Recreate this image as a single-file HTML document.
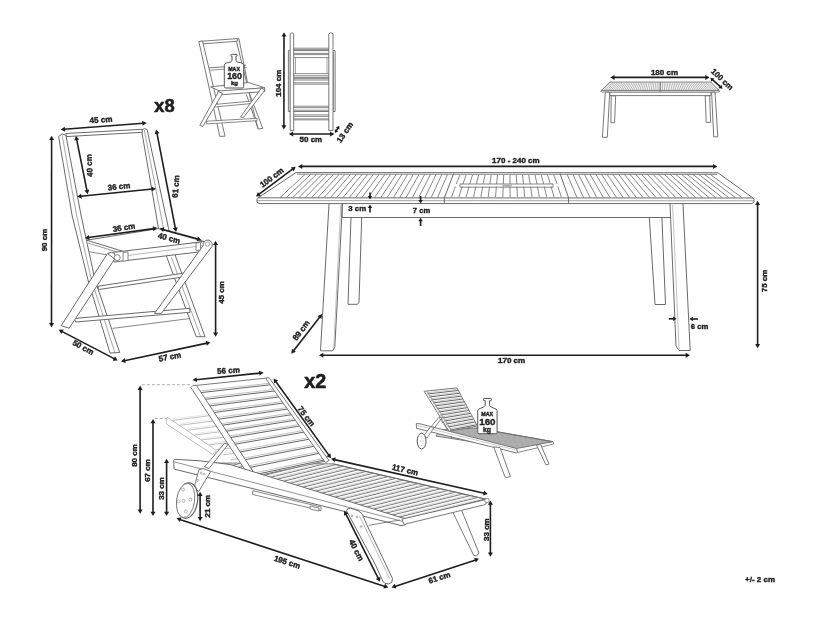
<!DOCTYPE html>
<html><head><meta charset="utf-8"><style>
html,body{margin:0;padding:0;background:#fff;}
svg{display:block;}
text{font-family:"Liberation Sans",sans-serif;}
svg{filter:grayscale(1) blur(0.3px);}
</style></head><body>
<svg width="816" height="619" viewBox="0 0 816 619">
<rect width="816" height="619" fill="#fff"/>
<line x1="296.0" y1="172.6" x2="718.0" y2="172.8" stroke="#6a6a6a" stroke-width="1.0" />
<line x1="297.0" y1="174.2" x2="717.0" y2="174.4" stroke="#6a6a6a" stroke-width="0.8" />
<line x1="258.0" y1="197.8" x2="296.0" y2="172.6" stroke="#6a6a6a" stroke-width="1.0" />
<line x1="718.0" y1="172.8" x2="753.0" y2="198.0" stroke="#6a6a6a" stroke-width="1.0" />
<line x1="258.0" y1="197.8" x2="753.0" y2="198.0" stroke="#6a6a6a" stroke-width="1.0" />
<path d="M258.0,197.8 L257.0,199.5 L257.0,202.0 L259.0,203.6 L752.0,203.6 L754.0,202.0 L754.0,199.5 L753.0,198.0" stroke="#6a6a6a" stroke-width="1.0" fill="none" stroke-linejoin="round" />
<line x1="257.0" y1="200.6" x2="754.0" y2="200.8" stroke="#6a6a6a" stroke-width="0.6" />
<line x1="453.7" y1="173.4" x2="444.3" y2="198.0" stroke="#6a6a6a" stroke-width="1.0" />
<line x1="560.0" y1="173.4" x2="568.6" y2="198.0" stroke="#6a6a6a" stroke-width="1.0" />
<line x1="444.3" y1="198.0" x2="444.3" y2="203.6" stroke="#6a6a6a" stroke-width="1.0" />
<line x1="568.6" y1="198.0" x2="568.6" y2="203.6" stroke="#6a6a6a" stroke-width="1.0" />
<clipPath id="ctop"><path d="M258,197.8 L296,172.6 L718,172.8 L753,198 Z"/></clipPath>
<g clip-path="url(#ctop)">
<line x1="280.0" y1="197.6" x2="305.0" y2="174.4" stroke="#6a6a6a" stroke-width="0.8" />
<line x1="286.3" y1="197.6" x2="310.7" y2="174.4" stroke="#6a6a6a" stroke-width="0.8" />
<line x1="292.6" y1="197.6" x2="316.4" y2="174.4" stroke="#6a6a6a" stroke-width="0.8" />
<line x1="298.9" y1="197.6" x2="322.1" y2="174.4" stroke="#6a6a6a" stroke-width="0.8" />
<line x1="305.2" y1="197.6" x2="327.8" y2="174.4" stroke="#6a6a6a" stroke-width="0.8" />
<line x1="311.5" y1="197.6" x2="333.5" y2="174.4" stroke="#6a6a6a" stroke-width="0.8" />
<line x1="317.8" y1="197.6" x2="339.2" y2="174.4" stroke="#6a6a6a" stroke-width="0.8" />
<line x1="324.1" y1="197.6" x2="344.9" y2="174.4" stroke="#6a6a6a" stroke-width="0.8" />
<line x1="330.4" y1="197.6" x2="350.6" y2="174.4" stroke="#6a6a6a" stroke-width="0.8" />
<line x1="336.7" y1="197.6" x2="356.3" y2="174.4" stroke="#6a6a6a" stroke-width="0.8" />
<line x1="343.0" y1="197.6" x2="362.0" y2="174.4" stroke="#6a6a6a" stroke-width="0.8" />
<line x1="349.3" y1="197.6" x2="367.7" y2="174.4" stroke="#6a6a6a" stroke-width="0.8" />
<line x1="355.6" y1="197.6" x2="373.4" y2="174.4" stroke="#6a6a6a" stroke-width="0.8" />
<line x1="361.9" y1="197.6" x2="379.1" y2="174.4" stroke="#6a6a6a" stroke-width="0.8" />
<line x1="368.2" y1="197.6" x2="384.8" y2="174.4" stroke="#6a6a6a" stroke-width="0.8" />
<line x1="374.5" y1="197.6" x2="390.5" y2="174.4" stroke="#6a6a6a" stroke-width="0.8" />
<line x1="380.8" y1="197.6" x2="396.2" y2="174.4" stroke="#6a6a6a" stroke-width="0.8" />
<line x1="387.1" y1="197.6" x2="401.9" y2="174.4" stroke="#6a6a6a" stroke-width="0.8" />
<line x1="393.4" y1="197.6" x2="407.6" y2="174.4" stroke="#6a6a6a" stroke-width="0.8" />
<line x1="399.7" y1="197.6" x2="413.3" y2="174.4" stroke="#6a6a6a" stroke-width="0.8" />
<line x1="406.0" y1="197.6" x2="419.0" y2="174.4" stroke="#6a6a6a" stroke-width="0.8" />
<line x1="412.3" y1="197.6" x2="424.7" y2="174.4" stroke="#6a6a6a" stroke-width="0.8" />
<line x1="418.6" y1="197.6" x2="430.4" y2="174.4" stroke="#6a6a6a" stroke-width="0.8" />
<line x1="424.9" y1="197.6" x2="436.1" y2="174.4" stroke="#6a6a6a" stroke-width="0.8" />
<line x1="431.2" y1="197.6" x2="441.8" y2="174.4" stroke="#6a6a6a" stroke-width="0.8" />
<line x1="437.5" y1="197.6" x2="447.5" y2="174.4" stroke="#6a6a6a" stroke-width="0.8" />
<line x1="577.0" y1="197.6" x2="567.2" y2="174.4" stroke="#6a6a6a" stroke-width="0.8" />
<line x1="583.6" y1="197.6" x2="572.9" y2="174.4" stroke="#6a6a6a" stroke-width="0.8" />
<line x1="590.2" y1="197.6" x2="578.6" y2="174.4" stroke="#6a6a6a" stroke-width="0.8" />
<line x1="596.8" y1="197.6" x2="584.4" y2="174.4" stroke="#6a6a6a" stroke-width="0.8" />
<line x1="603.4" y1="197.6" x2="590.1" y2="174.4" stroke="#6a6a6a" stroke-width="0.8" />
<line x1="610.0" y1="197.6" x2="595.8" y2="174.4" stroke="#6a6a6a" stroke-width="0.8" />
<line x1="616.6" y1="197.6" x2="601.5" y2="174.4" stroke="#6a6a6a" stroke-width="0.8" />
<line x1="623.2" y1="197.6" x2="607.2" y2="174.4" stroke="#6a6a6a" stroke-width="0.8" />
<line x1="629.8" y1="197.6" x2="613.0" y2="174.4" stroke="#6a6a6a" stroke-width="0.8" />
<line x1="636.4" y1="197.6" x2="618.7" y2="174.4" stroke="#6a6a6a" stroke-width="0.8" />
<line x1="643.0" y1="197.6" x2="624.4" y2="174.4" stroke="#6a6a6a" stroke-width="0.8" />
<line x1="649.6" y1="197.6" x2="630.1" y2="174.4" stroke="#6a6a6a" stroke-width="0.8" />
<line x1="656.2" y1="197.6" x2="635.8" y2="174.4" stroke="#6a6a6a" stroke-width="0.8" />
<line x1="662.8" y1="197.6" x2="641.6" y2="174.4" stroke="#6a6a6a" stroke-width="0.8" />
<line x1="669.4" y1="197.6" x2="647.3" y2="174.4" stroke="#6a6a6a" stroke-width="0.8" />
<line x1="676.0" y1="197.6" x2="653.0" y2="174.4" stroke="#6a6a6a" stroke-width="0.8" />
<line x1="682.6" y1="197.6" x2="658.7" y2="174.4" stroke="#6a6a6a" stroke-width="0.8" />
<line x1="689.2" y1="197.6" x2="664.4" y2="174.4" stroke="#6a6a6a" stroke-width="0.8" />
<line x1="695.8" y1="197.6" x2="670.2" y2="174.4" stroke="#6a6a6a" stroke-width="0.8" />
<line x1="702.4" y1="197.6" x2="675.9" y2="174.4" stroke="#6a6a6a" stroke-width="0.8" />
<line x1="709.0" y1="197.6" x2="681.6" y2="174.4" stroke="#6a6a6a" stroke-width="0.8" />
<line x1="715.6" y1="197.6" x2="687.3" y2="174.4" stroke="#6a6a6a" stroke-width="0.8" />
<line x1="722.2" y1="197.6" x2="693.0" y2="174.4" stroke="#6a6a6a" stroke-width="0.8" />
<line x1="728.8" y1="197.6" x2="698.8" y2="174.4" stroke="#6a6a6a" stroke-width="0.8" />
<line x1="735.4" y1="197.6" x2="704.5" y2="174.4" stroke="#6a6a6a" stroke-width="0.8" />
<line x1="742.0" y1="197.6" x2="710.2" y2="174.4" stroke="#6a6a6a" stroke-width="0.8" />
</g>
<line x1="451.6" y1="197.0" x2="455.4" y2="186.5" stroke="#6a6a6a" stroke-width="0.8" />
<line x1="456.2" y1="184.0" x2="460.0" y2="175.0" stroke="#6a6a6a" stroke-width="0.8" />
<line x1="458.9" y1="197.0" x2="462.2" y2="186.5" stroke="#6a6a6a" stroke-width="0.8" />
<line x1="462.9" y1="184.0" x2="466.2" y2="175.0" stroke="#6a6a6a" stroke-width="0.8" />
<line x1="466.2" y1="197.0" x2="469.0" y2="186.5" stroke="#6a6a6a" stroke-width="0.8" />
<line x1="469.7" y1="184.0" x2="472.5" y2="175.0" stroke="#6a6a6a" stroke-width="0.8" />
<line x1="473.5" y1="197.0" x2="475.9" y2="186.5" stroke="#6a6a6a" stroke-width="0.8" />
<line x1="476.4" y1="184.0" x2="478.7" y2="175.0" stroke="#6a6a6a" stroke-width="0.8" />
<line x1="480.9" y1="197.0" x2="482.7" y2="186.5" stroke="#6a6a6a" stroke-width="0.8" />
<line x1="483.1" y1="184.0" x2="485.0" y2="175.0" stroke="#6a6a6a" stroke-width="0.8" />
<line x1="488.2" y1="197.0" x2="489.5" y2="186.5" stroke="#6a6a6a" stroke-width="0.8" />
<line x1="489.8" y1="184.0" x2="491.2" y2="175.0" stroke="#6a6a6a" stroke-width="0.8" />
<line x1="495.5" y1="197.0" x2="496.4" y2="186.5" stroke="#6a6a6a" stroke-width="0.8" />
<line x1="496.6" y1="184.0" x2="497.5" y2="175.0" stroke="#6a6a6a" stroke-width="0.8" />
<line x1="502.8" y1="197.0" x2="503.2" y2="186.5" stroke="#6a6a6a" stroke-width="0.8" />
<line x1="503.3" y1="184.0" x2="503.7" y2="175.0" stroke="#6a6a6a" stroke-width="0.8" />
<line x1="510.1" y1="197.0" x2="510.0" y2="186.5" stroke="#6a6a6a" stroke-width="0.8" />
<line x1="510.0" y1="184.0" x2="510.0" y2="175.0" stroke="#6a6a6a" stroke-width="0.8" />
<line x1="517.4" y1="197.0" x2="516.9" y2="186.5" stroke="#6a6a6a" stroke-width="0.8" />
<line x1="516.8" y1="184.0" x2="516.2" y2="175.0" stroke="#6a6a6a" stroke-width="0.8" />
<line x1="524.7" y1="197.0" x2="523.7" y2="186.5" stroke="#6a6a6a" stroke-width="0.8" />
<line x1="523.5" y1="184.0" x2="522.5" y2="175.0" stroke="#6a6a6a" stroke-width="0.8" />
<line x1="532.0" y1="197.0" x2="530.6" y2="186.5" stroke="#6a6a6a" stroke-width="0.8" />
<line x1="530.2" y1="184.0" x2="528.7" y2="175.0" stroke="#6a6a6a" stroke-width="0.8" />
<line x1="539.4" y1="197.0" x2="537.4" y2="186.5" stroke="#6a6a6a" stroke-width="0.8" />
<line x1="537.0" y1="184.0" x2="535.0" y2="175.0" stroke="#6a6a6a" stroke-width="0.8" />
<line x1="546.7" y1="197.0" x2="544.2" y2="186.5" stroke="#6a6a6a" stroke-width="0.8" />
<line x1="543.7" y1="184.0" x2="541.2" y2="175.0" stroke="#6a6a6a" stroke-width="0.8" />
<line x1="554.0" y1="197.0" x2="551.1" y2="186.5" stroke="#6a6a6a" stroke-width="0.8" />
<line x1="550.4" y1="184.0" x2="547.5" y2="175.0" stroke="#6a6a6a" stroke-width="0.8" />
<line x1="561.3" y1="197.0" x2="557.9" y2="186.5" stroke="#6a6a6a" stroke-width="0.8" />
<line x1="557.1" y1="184.0" x2="553.7" y2="175.0" stroke="#6a6a6a" stroke-width="0.8" />
<path d="M460.0,184.0 L553.0,184.0 L553.0,187.2 L460.0,187.2 Z" stroke="#6a6a6a" stroke-width="0.8" fill="none" stroke-linejoin="round" />
<ellipse cx="507" cy="185.6" rx="5" ry="1.2" fill="#aaa"/>
<line x1="342.0" y1="203.6" x2="342.0" y2="217.5" stroke="#6a6a6a" stroke-width="1.0" />
<line x1="342.0" y1="217.5" x2="670.0" y2="217.5" stroke="#6a6a6a" stroke-width="1.0" />
<path d="M329.0,204.0 L320.5,350.8 L332.7,350.8 L334.8,347.1 L342.5,204.0" stroke="#6a6a6a" stroke-width="1.0" fill="none" stroke-linejoin="round" />
<path d="M351.0,217.5 L348.0,304.3 L357.5,304.3 L359.0,302.0 L361.7,217.5" stroke="#6a6a6a" stroke-width="1.0" fill="none" stroke-linejoin="round" />
<path d="M670.0,204.0 L676.0,346.0 L679.0,350.5 L690.2,350.5 L683.0,204.0" stroke="#6a6a6a" stroke-width="1.0" fill="none" stroke-linejoin="round" />
<line x1="672.6" y1="205.0" x2="679.1" y2="349.0" stroke="#999" stroke-width="0.6" />
<line x1="340.8" y1="205.0" x2="333.6" y2="350.0" stroke="#999" stroke-width="0.6" />
<path d="M649.3,217.5 L655.0,304.5 L665.5,304.5 L661.9,217.5" stroke="#6a6a6a" stroke-width="1.0" fill="none" stroke-linejoin="round" />
<line x1="301.4" y1="166.4" x2="714.0" y2="166.4" stroke="#1e1e1e" stroke-width="1.6"/>
<path d="M717.4,166.4 L713.1,168.9 L713.1,163.9 Z" fill="#1e1e1e"/>
<path d="M298.0,166.4 L302.3,163.9 L302.3,168.9 Z" fill="#1e1e1e"/>
<text x="515.9" y="162.5" font-size="8" font-weight="bold" text-anchor="middle" fill="#1e1e1e" stroke="#1e1e1e" stroke-width="0.4">170 - 240 cm</text>
<line x1="258.8" y1="194.4" x2="292.9" y2="168.9" stroke="#1e1e1e" stroke-width="1.6"/>
<path d="M295.7,166.8 L293.8,171.4 L290.8,167.4 Z" fill="#1e1e1e"/>
<path d="M256.0,196.5 L257.9,191.9 L260.9,195.9 Z" fill="#1e1e1e"/>
<text x="272.0" y="180.1" font-size="8" font-weight="bold" text-anchor="middle" fill="#1e1e1e" stroke="#1e1e1e" stroke-width="0.4" transform="rotate(-37 272.0 177.8)">100 cm</text>
<line x1="370.0" y1="192.4" x2="370.0" y2="196.7" stroke="#1e1e1e" stroke-width="1.6"/>
<path d="M370.0,199.5 L367.8,196.0 L372.2,196.0 Z" fill="#1e1e1e"/>
<line x1="370.0" y1="212.6" x2="370.0" y2="207.4" stroke="#1e1e1e" stroke-width="1.6"/>
<path d="M370.0,204.6 L372.2,208.1 L367.8,208.1 Z" fill="#1e1e1e"/>
<text x="357.2" y="211.1" font-size="7.8" font-weight="bold" text-anchor="middle" fill="#1e1e1e" stroke="#1e1e1e" stroke-width="0.4">3 cm</text>
<line x1="420.6" y1="196.0" x2="420.6" y2="200.6" stroke="#1e1e1e" stroke-width="1.6"/>
<path d="M420.6,203.4 L418.4,199.9 L422.8,199.9 Z" fill="#1e1e1e"/>
<line x1="420.6" y1="226.0" x2="420.6" y2="220.6" stroke="#1e1e1e" stroke-width="1.6"/>
<path d="M420.6,217.8 L422.8,221.3 L418.4,221.3 Z" fill="#1e1e1e"/>
<text x="421.5" y="212.6" font-size="7.6" font-weight="bold" text-anchor="middle" fill="#1e1e1e" stroke="#1e1e1e" stroke-width="0.4">7 cm</text>
<line x1="757.6" y1="204.1" x2="757.6" y2="344.9" stroke="#1e1e1e" stroke-width="1.6"/>
<path d="M757.6,348.3 L755.1,344.0 L760.1,344.0 Z" fill="#1e1e1e"/>
<path d="M757.6,200.7 L760.1,205.0 L755.1,205.0 Z" fill="#1e1e1e"/>
<text x="764.7" y="283.2" font-size="8" font-weight="bold" text-anchor="middle" fill="#1e1e1e" stroke="#1e1e1e" stroke-width="0.4" transform="rotate(-90 764.7 280.9)">75 cm</text>
<line x1="668.8" y1="318.8" x2="673.8" y2="318.8" stroke="#1e1e1e" stroke-width="1.6"/>
<path d="M676.6,318.8 L673.1,321.0 L673.1,316.6 Z" fill="#1e1e1e"/>
<line x1="698.0" y1="319.0" x2="692.2" y2="319.0" stroke="#1e1e1e" stroke-width="1.6"/>
<path d="M689.4,319.0 L692.9,316.8 L692.9,321.2 Z" fill="#1e1e1e"/>
<text x="699.6" y="328.5" font-size="7.7" font-weight="bold" text-anchor="middle" fill="#1e1e1e" stroke="#1e1e1e" stroke-width="0.4">6 cm</text>
<line x1="293.4" y1="351.0" x2="320.0" y2="316.8" stroke="#1e1e1e" stroke-width="1.6"/>
<path d="M322.1,314.1 L321.4,319.0 L317.5,316.0 Z" fill="#1e1e1e"/>
<path d="M291.3,353.7 L292.0,348.8 L295.9,351.8 Z" fill="#1e1e1e"/>
<text x="301.5" y="332.9" font-size="8" font-weight="bold" text-anchor="middle" fill="#1e1e1e" stroke="#1e1e1e" stroke-width="0.4" transform="rotate(-53 301.5 330.6)">89 cm</text>
<line x1="322.4" y1="355.3" x2="686.6" y2="355.3" stroke="#1e1e1e" stroke-width="1.6"/>
<path d="M690.0,355.3 L685.7,357.8 L685.7,352.8 Z" fill="#1e1e1e"/>
<path d="M319.0,355.3 L323.3,352.8 L323.3,357.8 Z" fill="#1e1e1e"/>
<text x="511.6" y="363.0" font-size="8" font-weight="bold" text-anchor="middle" fill="#1e1e1e" stroke="#1e1e1e" stroke-width="0.4">170 cm</text>
<path d="M141.5,130.0 L144.3,128.6 L147.1,129.5 L168.6,228.6 L176.0,257.6 L205.0,336.7 L196.2,336.7 L167.0,257.6 L158.5,228.6 Z" stroke="#6a6a6a" stroke-width="1.0" fill="#fff" stroke-linejoin="round" />
<line x1="144.3" y1="130.0" x2="163.5" y2="228.6" stroke="#6a6a6a" stroke-width="0.6" />
<line x1="171.5" y1="257.6" x2="200.6" y2="336.7" stroke="#6a6a6a" stroke-width="0.6" />
<path d="M65.8,133.5 L141.8,129.3 L142.5,132.3 L66.3,136.6 Z" stroke="#6a6a6a" stroke-width="1.0" fill="#fff" stroke-linejoin="round" />
<path d="M58.6,136.5 L62.0,134.0 L65.8,135.0 L81.0,215.0 L95.0,280.0 L119.7,352.5 L110.0,353.0 L88.0,280.0 L72.0,215.0 Z" stroke="#6a6a6a" stroke-width="1.0" fill="#fff" stroke-linejoin="round" />
<path d="M62.2,135.5 L76.5,215.0 L91.5,280.0 L114.8,352.5" stroke="#6a6a6a" stroke-width="0.6" fill="none" stroke-linejoin="round" />
<path d="M98.3,286.2 L185.6,272.8 L186.0,276.5 L98.3,289.6 Z" stroke="#6a6a6a" stroke-width="1.0" fill="#fff" stroke-linejoin="round" />
<path d="M74.0,318.5 L189.8,308.3 L190.0,312.3 L75.7,322.0 Z" stroke="#6a6a6a" stroke-width="1.0" fill="#fff" stroke-linejoin="round" />
<line x1="112.5" y1="328.4" x2="190.0" y2="318.5" stroke="#6a6a6a" stroke-width="0.8" />
<path d="M86.8,240.2 L158.2,228.6 L204.0,241.5 L126.8,252.5 Z" stroke="#6a6a6a" stroke-width="1.0" fill="#fff" stroke-linejoin="round" />
<line x1="88.0" y1="243.0" x2="127.0" y2="255.0" stroke="#6a6a6a" stroke-width="0.7" />
<path d="M112.0,252.5 L205.0,241.5 L207.0,251.0 L114.0,262.0 Z" stroke="#6a6a6a" stroke-width="1.0" fill="#fff" stroke-linejoin="round" />
<line x1="128.0" y1="255.5" x2="203.0" y2="245.5" stroke="#888" stroke-width="0.6" />
<line x1="88.8" y1="251.7" x2="108.0" y2="255.0" stroke="#6a6a6a" stroke-width="0.8" />
<circle cx="111.3" cy="256.3" r="4" fill="#fff" stroke="#6a6a6a" stroke-width="1"/>
<circle cx="117.2" cy="257.6" r="3" fill="#fff" stroke="#6a6a6a" stroke-width="0.8"/>
<path d="M123.0,252.5 L128.0,251.8 L128.0,260.5 L123.0,261.2 Z" stroke="#6a6a6a" stroke-width="0.8" fill="#fff" stroke-linejoin="round" />
<path d="M107.5,253.5 L114.6,259.0 L69.2,328.2 L61.2,325.7 Z" stroke="#6a6a6a" stroke-width="1.0" fill="#fff" stroke-linejoin="round" />
<path d="M203.2,245.5 A4.6,4.6 0 1 1 211.9,246.6 L161.3,313.4 L154.5,313.4 Z" fill="#fff" stroke="#6a6a6a" stroke-width="1" stroke-linejoin="round"/>
<circle cx="207.6" cy="244" r="2.2" fill="#fff" stroke="#888" stroke-width="0.7"/>
<path d="M196.0,243.0 L200.5,242.5 L200.5,250.0 L196.0,250.5 Z" stroke="#6a6a6a" stroke-width="0.8" fill="#fff" stroke-linejoin="round" />
<line x1="64.1" y1="129.2" x2="143.3" y2="123.2" stroke="#1e1e1e" stroke-width="1.6"/>
<path d="M146.7,122.9 L142.6,125.7 L142.2,120.7 Z" fill="#1e1e1e"/>
<path d="M60.7,129.5 L64.8,126.7 L65.2,131.7 Z" fill="#1e1e1e"/>
<text x="101.0" y="122.5" font-size="8" font-weight="bold" text-anchor="middle" fill="#1e1e1e" stroke="#1e1e1e" stroke-width="0.4" transform="rotate(-4 101.0 120.2)">45 cm</text>
<line x1="51.6" y1="139.1" x2="51.5" y2="324.0" stroke="#1e1e1e" stroke-width="1.6"/>
<path d="M51.5,327.4 L49.0,323.1 L54.0,323.1 Z" fill="#1e1e1e"/>
<path d="M51.6,135.7 L54.1,140.0 L49.1,140.0 Z" fill="#1e1e1e"/>
<text x="45.0" y="242.3" font-size="8" font-weight="bold" text-anchor="middle" fill="#1e1e1e" stroke="#1e1e1e" stroke-width="0.4" transform="rotate(-90 45.0 240.0)">90 cm</text>
<line x1="76.6" y1="139.1" x2="87.0" y2="190.8" stroke="#1e1e1e" stroke-width="1.6"/>
<path d="M87.7,194.2 L84.4,190.5 L89.3,189.5 Z" fill="#1e1e1e"/>
<path d="M75.9,135.7 L79.2,139.4 L74.3,140.4 Z" fill="#1e1e1e"/>
<text x="89.8" y="167.9" font-size="8" font-weight="bold" text-anchor="middle" fill="#1e1e1e" stroke="#1e1e1e" stroke-width="0.4" transform="rotate(-93 89.8 165.6)">40 cm</text>
<line x1="80.6" y1="196.3" x2="152.5" y2="189.0" stroke="#1e1e1e" stroke-width="1.6"/>
<path d="M155.9,188.7 L151.9,191.6 L151.4,186.6 Z" fill="#1e1e1e"/>
<path d="M77.2,196.6 L81.2,193.7 L81.7,198.7 Z" fill="#1e1e1e"/>
<text x="119.0" y="189.3" font-size="8" font-weight="bold" text-anchor="middle" fill="#1e1e1e" stroke="#1e1e1e" stroke-width="0.4" transform="rotate(-6 119.0 187.0)">36 cm</text>
<line x1="156.9" y1="132.9" x2="175.4" y2="228.6" stroke="#1e1e1e" stroke-width="1.6"/>
<path d="M176.1,232.0 L172.8,228.3 L177.7,227.3 Z" fill="#1e1e1e"/>
<path d="M156.2,129.5 L159.5,133.2 L154.6,134.2 Z" fill="#1e1e1e"/>
<text x="176.2" y="188.8" font-size="8" font-weight="bold" text-anchor="middle" fill="#1e1e1e" stroke="#1e1e1e" stroke-width="0.4" transform="rotate(-85 176.2 186.5)">61 cm</text>
<line x1="88.3" y1="237.5" x2="153.9" y2="228.6" stroke="#1e1e1e" stroke-width="1.6"/>
<path d="M157.3,228.1 L153.4,231.2 L152.7,226.2 Z" fill="#1e1e1e"/>
<path d="M84.9,238.0 L88.8,234.9 L89.5,239.9 Z" fill="#1e1e1e"/>
<text x="124.0" y="230.3" font-size="8" font-weight="bold" text-anchor="middle" fill="#1e1e1e" stroke="#1e1e1e" stroke-width="0.4" transform="rotate(-9 124.0 228.0)">36 cm</text>
<line x1="162.9" y1="229.5" x2="198.1" y2="239.0" stroke="#1e1e1e" stroke-width="1.6"/>
<path d="M201.4,239.9 L196.6,241.2 L197.9,236.4 Z" fill="#1e1e1e"/>
<path d="M159.6,228.6 L164.4,227.3 L163.1,232.1 Z" fill="#1e1e1e"/>
<text x="169.0" y="240.9" font-size="8" font-weight="bold" text-anchor="middle" fill="#1e1e1e" stroke="#1e1e1e" stroke-width="0.4" transform="rotate(15 169.0 238.6)">40 cm</text>
<line x1="215.6" y1="244.1" x2="215.6" y2="333.3" stroke="#1e1e1e" stroke-width="1.6"/>
<path d="M215.6,336.7 L213.1,332.4 L218.1,332.4 Z" fill="#1e1e1e"/>
<path d="M215.6,240.7 L218.1,245.0 L213.1,245.0 Z" fill="#1e1e1e"/>
<text x="222.0" y="294.8" font-size="8" font-weight="bold" text-anchor="middle" fill="#1e1e1e" stroke="#1e1e1e" stroke-width="0.4" transform="rotate(-90 222.0 292.5)">45 cm</text>
<line x1="61.8" y1="331.4" x2="114.6" y2="358.9" stroke="#1e1e1e" stroke-width="1.6"/>
<path d="M117.7,360.5 L112.7,360.7 L115.0,356.3 Z" fill="#1e1e1e"/>
<path d="M58.7,329.8 L63.7,329.6 L61.4,334.0 Z" fill="#1e1e1e"/>
<text x="83.0" y="350.1" font-size="8" font-weight="bold" text-anchor="middle" fill="#1e1e1e" stroke="#1e1e1e" stroke-width="0.4" transform="rotate(28 83.0 347.8)">50 cm</text>
<line x1="124.4" y1="360.7" x2="207.0" y2="343.1" stroke="#1e1e1e" stroke-width="1.6"/>
<path d="M210.4,342.4 L206.7,345.7 L205.7,340.8 Z" fill="#1e1e1e"/>
<path d="M121.0,361.4 L124.7,358.1 L125.7,363.0 Z" fill="#1e1e1e"/>
<text x="170.0" y="359.6" font-size="8" font-weight="bold" text-anchor="middle" fill="#1e1e1e" stroke="#1e1e1e" stroke-width="0.4" transform="rotate(-11 170.0 357.3)">57 cm</text>
<path d="M235.9,39.0 L238.9,38.5 L249.8,94.5 L262.8,128.4 L258.0,129.0 Z" stroke="#6a6a6a" stroke-width="0.9" fill="#fff" stroke-linejoin="round" />
<line x1="246.4" y1="94.5" x2="258.0" y2="128.4" stroke="#6a6a6a" stroke-width="0.9" />
<path d="M200.7,41.3 L237.1,38.6 L237.6,41.2 L201.2,44.0 Z" stroke="#6a6a6a" stroke-width="0.9" fill="#fff" stroke-linejoin="round" />
<line x1="205.1" y1="68.2" x2="246.0" y2="65.2" stroke="#6a6a6a" stroke-width="0.9" />
<line x1="205.6" y1="70.5" x2="246.5" y2="67.5" stroke="#6a6a6a" stroke-width="0.7" />
<path d="M198.9,41.6 L202.5,41.0 L225.0,136.2 L219.8,136.4 Z" stroke="#6a6a6a" stroke-width="0.9" fill="#fff" stroke-linejoin="round" />
<path d="M214.0,104.5 L252.3,101.0 L252.3,103.5 L214.0,107.0 Z" stroke="#6a6a6a" stroke-width="0.8" fill="#fff" stroke-linejoin="round" />
<path d="M206.6,121.2 L257.0,118.3 L257.0,120.7 L206.6,123.9 Z" stroke="#6a6a6a" stroke-width="0.8" fill="#fff" stroke-linejoin="round" />
<path d="M210.5,86.9 L248.7,82.5 L264.7,87.8 L221.1,91.6 Z" stroke="#6a6a6a" stroke-width="0.9" fill="#fff" stroke-linejoin="round" />
<path d="M218.0,91.0 L264.7,87.8 L264.7,91.5 L218.0,95.0 Z" stroke="#6a6a6a" stroke-width="0.9" fill="#fff" stroke-linejoin="round" />
<path d="M218.5,91.5 L222.5,93.5 L202.9,126.3 L199.8,125.5 Z" stroke="#6a6a6a" stroke-width="0.9" fill="#fff" stroke-linejoin="round" />
<path d="M261.5,88.0 L265.0,90.0 L243.4,117.5 L240.5,117.0 Z" stroke="#6a6a6a" stroke-width="0.9" fill="#fff" stroke-linejoin="round" />
<path d="M232.0,56.1 L231.4,56.1 Q230.8,56.1 230.8,55.4 L230.8,55.1 Q230.8,54.4 231.5,54.4 L236.5,54.4 Q237.2,54.4 237.2,55.1 L237.2,55.4 Q237.2,56.1 236.6,56.1 L236.0,56.1 L236.0,60.7 Q236.6,62.3 240.7,62.7 Q243.7,63.3 243.7,65.1 L243.7,86.7 Q243.7,88.0 242.4,88.0 L225.6,88.0 Q224.3,88.0 224.3,86.7 L224.3,65.1 Q224.3,63.3 227.3,62.7 Q231.4,62.3 232.0,60.7 Z" fill="#fff" stroke="#555" stroke-width="1"/>
<text x="234.1" y="70.9" font-size="5.3" font-weight="bold" text-anchor="middle" fill="#1e1e1e" stroke="#1e1e1e" stroke-width="0.4">MAX</text>
<text x="234.6" y="79.3" font-size="8.9" font-weight="bold" text-anchor="middle" fill="#1e1e1e" stroke="#1e1e1e" stroke-width="0.4">160</text>
<text x="234.4" y="85.0" font-size="6" font-weight="bold" text-anchor="middle" fill="#1e1e1e" stroke="#1e1e1e" stroke-width="0.4">kg</text>
<path d="M288.4,50.6 L335.1,50.6 L335.1,111.5 L288.4,111.5 Z" stroke="#6a6a6a" stroke-width="0.9" fill="#fff" stroke-linejoin="round" />
<line x1="290.2" y1="52.0" x2="290.2" y2="111.0" stroke="#6a6a6a" stroke-width="0.7" />
<line x1="333.3" y1="52.0" x2="333.3" y2="111.0" stroke="#6a6a6a" stroke-width="0.7" />
<path d="M290.2,130.5 L290.2,33.8 L292.0,32.7 L293.7,33.8 L293.7,130.5 Z" stroke="#6a6a6a" stroke-width="0.9" fill="#fff" stroke-linejoin="round" />
<path d="M328.8,130.5 L328.8,33.8 L330.9,32.7 L333.0,33.8 L333.0,130.5 Z" stroke="#6a6a6a" stroke-width="0.9" fill="#fff" stroke-linejoin="round" />
<line x1="293.7" y1="48.2" x2="328.8" y2="48.2" stroke="#6a6a6a" stroke-width="0.8" />
<line x1="293.7" y1="49.6" x2="328.8" y2="49.6" stroke="#6a6a6a" stroke-width="0.8" />
<line x1="293.7" y1="53.4" x2="328.8" y2="53.4" stroke="#6a6a6a" stroke-width="0.8" />
<line x1="293.7" y1="54.6" x2="328.8" y2="54.6" stroke="#6a6a6a" stroke-width="0.8" />
<line x1="293.7" y1="57.6" x2="328.8" y2="57.6" stroke="#6a6a6a" stroke-width="0.8" />
<line x1="293.7" y1="73.7" x2="328.8" y2="73.7" stroke="#6a6a6a" stroke-width="0.8" />
<line x1="293.7" y1="75.8" x2="328.8" y2="75.8" stroke="#6a6a6a" stroke-width="0.8" />
<line x1="293.7" y1="77.4" x2="328.8" y2="77.4" stroke="#6a6a6a" stroke-width="0.8" />
<line x1="293.7" y1="78.6" x2="328.8" y2="78.6" stroke="#6a6a6a" stroke-width="0.8" />
<line x1="293.7" y1="80.0" x2="328.8" y2="80.0" stroke="#6a6a6a" stroke-width="0.8" />
<line x1="293.7" y1="82.8" x2="328.8" y2="82.8" stroke="#6a6a6a" stroke-width="0.8" />
<line x1="293.7" y1="84.2" x2="328.8" y2="84.2" stroke="#6a6a6a" stroke-width="0.8" />
<line x1="293.7" y1="106.2" x2="328.8" y2="106.2" stroke="#6a6a6a" stroke-width="0.8" />
<line x1="293.7" y1="107.6" x2="328.8" y2="107.6" stroke="#6a6a6a" stroke-width="0.8" />
<line x1="293.7" y1="110.2" x2="328.8" y2="110.2" stroke="#6a6a6a" stroke-width="0.8" />
<line x1="293.7" y1="114.9" x2="328.8" y2="114.9" stroke="#6a6a6a" stroke-width="0.8" />
<line x1="293.7" y1="116.4" x2="328.8" y2="116.4" stroke="#6a6a6a" stroke-width="0.8" />
<line x1="293.7" y1="118.9" x2="328.8" y2="118.9" stroke="#6a6a6a" stroke-width="0.8" />
<line x1="293.7" y1="119.9" x2="328.8" y2="119.9" stroke="#6a6a6a" stroke-width="0.8" />
<line x1="295.5" y1="58.0" x2="295.5" y2="73.7" stroke="#6a6a6a" stroke-width="0.6" />
<line x1="327.0" y1="58.0" x2="327.0" y2="73.7" stroke="#6a6a6a" stroke-width="0.6" />
<line x1="284.0" y1="35.6" x2="283.9" y2="126.2" stroke="#1e1e1e" stroke-width="1.6"/>
<path d="M283.9,129.6 L281.4,125.3 L286.4,125.3 Z" fill="#1e1e1e"/>
<path d="M284.0,32.2 L286.5,36.5 L281.5,36.5 Z" fill="#1e1e1e"/>
<text x="278.7" y="85.5" font-size="8" font-weight="bold" text-anchor="middle" fill="#1e1e1e" stroke="#1e1e1e" stroke-width="0.4" transform="rotate(-90 278.7 83.2)">104 cm</text>
<line x1="292.2" y1="134.0" x2="331.0" y2="134.0" stroke="#1e1e1e" stroke-width="1.6"/>
<path d="M334.4,134.0 L330.1,136.5 L330.1,131.5 Z" fill="#1e1e1e"/>
<path d="M288.8,134.0 L293.1,131.5 L293.1,136.5 Z" fill="#1e1e1e"/>
<text x="310.9" y="141.5" font-size="8" font-weight="bold" text-anchor="middle" fill="#1e1e1e" stroke="#1e1e1e" stroke-width="0.4">50 cm</text>
<line x1="336.2" y1="130.8" x2="338.0" y2="127.9" stroke="#1e1e1e" stroke-width="1.6"/>
<path d="M339.3,125.7 L339.4,129.5 L335.9,127.4 Z" fill="#1e1e1e"/>
<path d="M334.9,133.0 L334.8,129.2 L338.3,131.3 Z" fill="#1e1e1e"/>
<text x="345.2" y="134.8" font-size="8" font-weight="bold" text-anchor="middle" fill="#1e1e1e" stroke="#1e1e1e" stroke-width="0.4" transform="rotate(-56 345.2 132.5)">13 cm</text>
<path d="M611.2,95.8 L615.6,95.8 L614.6,122.7 L610.9,122.7 Z" stroke="#6a6a6a" stroke-width="0.9" fill="#fff" stroke-linejoin="round" />
<path d="M705.2,95.7 L709.6,95.7 L710.7,122.4 L706.2,122.4 Z" stroke="#6a6a6a" stroke-width="0.9" fill="#fff" stroke-linejoin="round" />
<path d="M609.7,91.9 L711.0,91.9 L711.0,95.6 L609.7,95.6 Z" stroke="#6a6a6a" stroke-width="0.9" fill="#fff" stroke-linejoin="round" />
<path d="M609.7,82.1 L710.8,82.1 L719.0,90.4 L601.4,90.4 Z" stroke="#6a6a6a" stroke-width="0.9" fill="#fff" stroke-linejoin="round" />
<path d="M601.4,90.4 L719.0,90.4 L719.4,91.2 L719.0,92.0 L601.4,92.0 L601.0,91.2 Z" stroke="#6a6a6a" stroke-width="0.8" fill="#fff" stroke-linejoin="round" />
<clipPath id="cst"><path d="M609.7,83 L710.8,83 L718,89.8 L602.4,89.8 Z"/></clipPath><g clip-path="url(#cst)">
<line x1="598.0" y1="90.0" x2="605.5" y2="82.5" stroke="#8a8a8a" stroke-width="0.6" />
<line x1="599.9" y1="90.0" x2="607.2" y2="82.5" stroke="#8a8a8a" stroke-width="0.6" />
<line x1="601.8" y1="90.0" x2="608.8" y2="82.5" stroke="#8a8a8a" stroke-width="0.6" />
<line x1="603.7" y1="90.0" x2="610.5" y2="82.5" stroke="#8a8a8a" stroke-width="0.6" />
<line x1="605.6" y1="90.0" x2="612.2" y2="82.5" stroke="#8a8a8a" stroke-width="0.6" />
<line x1="607.5" y1="90.0" x2="613.8" y2="82.5" stroke="#8a8a8a" stroke-width="0.6" />
<line x1="609.4" y1="90.0" x2="615.5" y2="82.5" stroke="#8a8a8a" stroke-width="0.6" />
<line x1="611.3" y1="90.0" x2="617.2" y2="82.5" stroke="#8a8a8a" stroke-width="0.6" />
<line x1="613.2" y1="90.0" x2="618.8" y2="82.5" stroke="#8a8a8a" stroke-width="0.6" />
<line x1="615.1" y1="90.0" x2="620.5" y2="82.5" stroke="#8a8a8a" stroke-width="0.6" />
<line x1="617.0" y1="90.0" x2="622.2" y2="82.5" stroke="#8a8a8a" stroke-width="0.6" />
<line x1="618.9" y1="90.0" x2="623.9" y2="82.5" stroke="#8a8a8a" stroke-width="0.6" />
<line x1="620.8" y1="90.0" x2="625.5" y2="82.5" stroke="#8a8a8a" stroke-width="0.6" />
<line x1="622.7" y1="90.0" x2="627.2" y2="82.5" stroke="#8a8a8a" stroke-width="0.6" />
<line x1="624.6" y1="90.0" x2="628.9" y2="82.5" stroke="#8a8a8a" stroke-width="0.6" />
<line x1="626.5" y1="90.0" x2="630.5" y2="82.5" stroke="#8a8a8a" stroke-width="0.6" />
<line x1="628.4" y1="90.0" x2="632.2" y2="82.5" stroke="#8a8a8a" stroke-width="0.6" />
<line x1="630.3" y1="90.0" x2="633.9" y2="82.5" stroke="#8a8a8a" stroke-width="0.6" />
<line x1="632.2" y1="90.0" x2="635.6" y2="82.5" stroke="#8a8a8a" stroke-width="0.6" />
<line x1="634.1" y1="90.0" x2="637.2" y2="82.5" stroke="#8a8a8a" stroke-width="0.6" />
<line x1="636.0" y1="90.0" x2="638.9" y2="82.5" stroke="#8a8a8a" stroke-width="0.6" />
<line x1="637.9" y1="90.0" x2="640.6" y2="82.5" stroke="#8a8a8a" stroke-width="0.6" />
<line x1="639.8" y1="90.0" x2="642.2" y2="82.5" stroke="#8a8a8a" stroke-width="0.6" />
<line x1="641.7" y1="90.0" x2="643.9" y2="82.5" stroke="#8a8a8a" stroke-width="0.6" />
<line x1="643.6" y1="90.0" x2="645.6" y2="82.5" stroke="#8a8a8a" stroke-width="0.6" />
<line x1="645.5" y1="90.0" x2="647.2" y2="82.5" stroke="#8a8a8a" stroke-width="0.6" />
<line x1="647.4" y1="90.0" x2="648.9" y2="82.5" stroke="#8a8a8a" stroke-width="0.6" />
<line x1="649.3" y1="90.0" x2="650.6" y2="82.5" stroke="#8a8a8a" stroke-width="0.6" />
<line x1="651.2" y1="90.0" x2="652.3" y2="82.5" stroke="#8a8a8a" stroke-width="0.6" />
<line x1="653.1" y1="90.0" x2="653.9" y2="82.5" stroke="#8a8a8a" stroke-width="0.6" />
<line x1="655.0" y1="90.0" x2="655.6" y2="82.5" stroke="#8a8a8a" stroke-width="0.6" />
<line x1="656.9" y1="90.0" x2="657.3" y2="82.5" stroke="#8a8a8a" stroke-width="0.6" />
<line x1="658.8" y1="90.0" x2="658.9" y2="82.5" stroke="#8a8a8a" stroke-width="0.6" />
<line x1="660.7" y1="90.0" x2="660.6" y2="82.5" stroke="#8a8a8a" stroke-width="0.6" />
<line x1="662.6" y1="90.0" x2="662.3" y2="82.5" stroke="#8a8a8a" stroke-width="0.6" />
<line x1="664.5" y1="90.0" x2="664.0" y2="82.5" stroke="#8a8a8a" stroke-width="0.6" />
<line x1="666.4" y1="90.0" x2="665.6" y2="82.5" stroke="#8a8a8a" stroke-width="0.6" />
<line x1="668.3" y1="90.0" x2="667.3" y2="82.5" stroke="#8a8a8a" stroke-width="0.6" />
<line x1="670.2" y1="90.0" x2="669.0" y2="82.5" stroke="#8a8a8a" stroke-width="0.6" />
<line x1="672.1" y1="90.0" x2="670.6" y2="82.5" stroke="#8a8a8a" stroke-width="0.6" />
<line x1="674.0" y1="90.0" x2="672.3" y2="82.5" stroke="#8a8a8a" stroke-width="0.6" />
<line x1="675.9" y1="90.0" x2="674.0" y2="82.5" stroke="#8a8a8a" stroke-width="0.6" />
<line x1="677.8" y1="90.0" x2="675.7" y2="82.5" stroke="#8a8a8a" stroke-width="0.6" />
<line x1="679.7" y1="90.0" x2="677.3" y2="82.5" stroke="#8a8a8a" stroke-width="0.6" />
<line x1="681.6" y1="90.0" x2="679.0" y2="82.5" stroke="#8a8a8a" stroke-width="0.6" />
<line x1="683.5" y1="90.0" x2="680.7" y2="82.5" stroke="#8a8a8a" stroke-width="0.6" />
<line x1="685.4" y1="90.0" x2="682.3" y2="82.5" stroke="#8a8a8a" stroke-width="0.6" />
<line x1="687.3" y1="90.0" x2="684.0" y2="82.5" stroke="#8a8a8a" stroke-width="0.6" />
<line x1="689.2" y1="90.0" x2="685.7" y2="82.5" stroke="#8a8a8a" stroke-width="0.6" />
<line x1="691.1" y1="90.0" x2="687.3" y2="82.5" stroke="#8a8a8a" stroke-width="0.6" />
<line x1="693.0" y1="90.0" x2="689.0" y2="82.5" stroke="#8a8a8a" stroke-width="0.6" />
<line x1="694.9" y1="90.0" x2="690.7" y2="82.5" stroke="#8a8a8a" stroke-width="0.6" />
<line x1="696.8" y1="90.0" x2="692.4" y2="82.5" stroke="#8a8a8a" stroke-width="0.6" />
<line x1="698.7" y1="90.0" x2="694.0" y2="82.5" stroke="#8a8a8a" stroke-width="0.6" />
<line x1="700.6" y1="90.0" x2="695.7" y2="82.5" stroke="#8a8a8a" stroke-width="0.6" />
<line x1="702.5" y1="90.0" x2="697.4" y2="82.5" stroke="#8a8a8a" stroke-width="0.6" />
<line x1="704.4" y1="90.0" x2="699.0" y2="82.5" stroke="#8a8a8a" stroke-width="0.6" />
<line x1="706.3" y1="90.0" x2="700.7" y2="82.5" stroke="#8a8a8a" stroke-width="0.6" />
<line x1="708.2" y1="90.0" x2="702.4" y2="82.5" stroke="#8a8a8a" stroke-width="0.6" />
<line x1="710.1" y1="90.0" x2="704.1" y2="82.5" stroke="#8a8a8a" stroke-width="0.6" />
<line x1="712.0" y1="90.0" x2="705.7" y2="82.5" stroke="#8a8a8a" stroke-width="0.6" />
<line x1="713.9" y1="90.0" x2="707.4" y2="82.5" stroke="#8a8a8a" stroke-width="0.6" />
<line x1="715.8" y1="90.0" x2="709.1" y2="82.5" stroke="#8a8a8a" stroke-width="0.6" />
<line x1="717.7" y1="90.0" x2="710.7" y2="82.5" stroke="#8a8a8a" stroke-width="0.6" />
<line x1="719.6" y1="90.0" x2="712.4" y2="82.5" stroke="#8a8a8a" stroke-width="0.6" />
<line x1="721.5" y1="90.0" x2="714.1" y2="82.5" stroke="#8a8a8a" stroke-width="0.6" />
</g>
<line x1="660.2" y1="82.1" x2="660.2" y2="92.0" stroke="#6a6a6a" stroke-width="0.9" />
<path d="M605.3,92.0 L609.7,92.4 L607.3,137.3 L602.4,137.3 Z" stroke="#6a6a6a" stroke-width="0.9" fill="#fff" stroke-linejoin="round" />
<path d="M711.6,92.2 L715.0,92.2 L717.8,136.8 L713.7,136.8 Z" stroke="#6a6a6a" stroke-width="0.9" fill="#fff" stroke-linejoin="round" />
<line x1="613.6" y1="77.4" x2="706.2" y2="77.4" stroke="#1e1e1e" stroke-width="1.6"/>
<path d="M709.6,77.4 L705.3,79.9 L705.3,74.9 Z" fill="#1e1e1e"/>
<path d="M610.2,77.4 L614.5,74.9 L614.5,79.9 Z" fill="#1e1e1e"/>
<text x="664.5" y="74.8" font-size="8" font-weight="bold" text-anchor="middle" fill="#1e1e1e" stroke="#1e1e1e" stroke-width="0.4">180 cm</text>
<line x1="712.4" y1="79.7" x2="720.5" y2="86.9" stroke="#1e1e1e" stroke-width="1.6"/>
<path d="M722.6,88.8 L718.5,88.1 L721.5,84.8 Z" fill="#1e1e1e"/>
<path d="M710.3,77.8 L714.4,78.5 L711.4,81.8 Z" fill="#1e1e1e"/>
<text x="721.9" y="81.9" font-size="8" font-weight="bold" text-anchor="middle" fill="#1e1e1e" stroke="#1e1e1e" stroke-width="0.4" transform="rotate(43 721.9 79.6)">100 cm</text>
<line x1="171.5" y1="420.5" x2="241.5" y2="411.5" stroke="#b8b8b8" stroke-width="0.9" />
<line x1="172.5" y1="418.9" x2="241.5" y2="409.9" stroke="#dedede" stroke-width="0.6" />
<line x1="178.9" y1="425.4" x2="248.9" y2="416.4" stroke="#b8b8b8" stroke-width="0.9" />
<line x1="179.9" y1="423.8" x2="248.9" y2="414.8" stroke="#dedede" stroke-width="0.6" />
<line x1="186.3" y1="430.3" x2="256.3" y2="421.3" stroke="#b8b8b8" stroke-width="0.9" />
<line x1="187.3" y1="428.7" x2="256.3" y2="419.7" stroke="#dedede" stroke-width="0.6" />
<line x1="193.7" y1="435.2" x2="263.7" y2="426.2" stroke="#b8b8b8" stroke-width="0.9" />
<line x1="194.7" y1="433.6" x2="263.7" y2="424.6" stroke="#dedede" stroke-width="0.6" />
<line x1="201.0" y1="440.1" x2="271.0" y2="431.1" stroke="#b8b8b8" stroke-width="0.9" />
<line x1="202.0" y1="438.5" x2="271.0" y2="429.5" stroke="#dedede" stroke-width="0.6" />
<line x1="208.4" y1="445.0" x2="278.4" y2="436.0" stroke="#b8b8b8" stroke-width="0.9" />
<line x1="209.4" y1="443.4" x2="278.4" y2="434.4" stroke="#dedede" stroke-width="0.6" />
<line x1="215.8" y1="449.9" x2="285.8" y2="440.9" stroke="#b8b8b8" stroke-width="0.9" />
<line x1="216.8" y1="448.3" x2="285.8" y2="439.3" stroke="#dedede" stroke-width="0.6" />
<line x1="223.2" y1="454.8" x2="293.2" y2="445.8" stroke="#b8b8b8" stroke-width="0.9" />
<line x1="224.2" y1="453.2" x2="293.2" y2="444.2" stroke="#dedede" stroke-width="0.6" />
<line x1="230.6" y1="459.7" x2="300.6" y2="450.7" stroke="#b8b8b8" stroke-width="0.9" />
<line x1="231.6" y1="458.1" x2="300.6" y2="449.1" stroke="#dedede" stroke-width="0.6" />
<path d="M166.3,418.6 L167.9,417.6 L214.6,449.1 L216.0,452.0 L212.5,454.3 L166.3,423.9 Z" stroke="#b8b8b8" stroke-width="0.9" fill="#fff" stroke-linejoin="round" />
<line x1="141.9" y1="384.7" x2="190.5" y2="384.7" stroke="#999" stroke-width="0.8" stroke-dasharray="3,2"/>
<line x1="154.7" y1="418.5" x2="166.7" y2="418.5" stroke="#999" stroke-width="0.8" stroke-dasharray="3,2"/>
<path d="M449.8,506.0 L459.2,504.5 L479.0,553.0 L476.5,556.0 L473.8,555.6 Z" stroke="#6a6a6a" stroke-width="0.9" fill="#fff" stroke-linejoin="round" />
<path d="M215.0,463.0 L333.2,463.9 L486.0,499.2 L406.0,519.4 L205.0,463.0 Z" stroke="#6a6a6a" stroke-width="0.9" fill="#fff" stroke-linejoin="round" />
<clipPath id="cseat"><path d="M215,463 L333.2,464.3 L485,499.5 L406,519 L205,463 Z"/></clipPath><g clip-path="url(#cseat)">
<line x1="200.0" y1="466.3" x2="300.0" y2="441.3" stroke="#666" stroke-width="0.85" />
<line x1="200.0" y1="465.1" x2="300.0" y2="440.1" stroke="#bbb" stroke-width="0.6" />
<line x1="207.1" y1="468.1" x2="307.1" y2="443.1" stroke="#666" stroke-width="0.85" />
<line x1="207.1" y1="466.9" x2="307.1" y2="441.9" stroke="#bbb" stroke-width="0.6" />
<line x1="214.2" y1="469.9" x2="314.2" y2="444.9" stroke="#666" stroke-width="0.85" />
<line x1="214.2" y1="468.7" x2="314.2" y2="443.7" stroke="#bbb" stroke-width="0.6" />
<line x1="221.3" y1="471.7" x2="321.3" y2="446.7" stroke="#666" stroke-width="0.85" />
<line x1="221.3" y1="470.5" x2="321.3" y2="445.5" stroke="#bbb" stroke-width="0.6" />
<line x1="228.4" y1="473.5" x2="328.4" y2="448.5" stroke="#666" stroke-width="0.85" />
<line x1="228.4" y1="472.3" x2="328.4" y2="447.3" stroke="#bbb" stroke-width="0.6" />
<line x1="235.5" y1="475.3" x2="335.5" y2="450.3" stroke="#666" stroke-width="0.85" />
<line x1="235.5" y1="474.1" x2="335.5" y2="449.1" stroke="#bbb" stroke-width="0.6" />
<line x1="242.6" y1="477.2" x2="342.6" y2="452.2" stroke="#666" stroke-width="0.85" />
<line x1="242.6" y1="476.0" x2="342.6" y2="451.0" stroke="#bbb" stroke-width="0.6" />
<line x1="249.7" y1="479.0" x2="349.7" y2="454.0" stroke="#666" stroke-width="0.85" />
<line x1="249.7" y1="477.8" x2="349.7" y2="452.8" stroke="#bbb" stroke-width="0.6" />
<line x1="256.8" y1="480.8" x2="356.8" y2="455.8" stroke="#666" stroke-width="0.85" />
<line x1="256.8" y1="479.6" x2="356.8" y2="454.6" stroke="#bbb" stroke-width="0.6" />
<line x1="263.9" y1="482.6" x2="363.9" y2="457.6" stroke="#666" stroke-width="0.85" />
<line x1="263.9" y1="481.4" x2="363.9" y2="456.4" stroke="#bbb" stroke-width="0.6" />
<line x1="271.0" y1="484.4" x2="371.0" y2="459.4" stroke="#666" stroke-width="0.85" />
<line x1="271.0" y1="483.2" x2="371.0" y2="458.2" stroke="#bbb" stroke-width="0.6" />
<line x1="278.1" y1="486.3" x2="378.1" y2="461.3" stroke="#666" stroke-width="0.85" />
<line x1="278.1" y1="485.1" x2="378.1" y2="460.1" stroke="#bbb" stroke-width="0.6" />
<line x1="285.2" y1="488.1" x2="385.2" y2="463.1" stroke="#666" stroke-width="0.85" />
<line x1="285.2" y1="486.9" x2="385.2" y2="461.9" stroke="#bbb" stroke-width="0.6" />
<line x1="292.3" y1="489.9" x2="392.3" y2="464.9" stroke="#666" stroke-width="0.85" />
<line x1="292.3" y1="488.7" x2="392.3" y2="463.7" stroke="#bbb" stroke-width="0.6" />
<line x1="299.4" y1="491.7" x2="399.4" y2="466.7" stroke="#666" stroke-width="0.85" />
<line x1="299.4" y1="490.5" x2="399.4" y2="465.5" stroke="#bbb" stroke-width="0.6" />
<line x1="306.5" y1="493.5" x2="406.5" y2="468.5" stroke="#666" stroke-width="0.85" />
<line x1="306.5" y1="492.3" x2="406.5" y2="467.3" stroke="#bbb" stroke-width="0.6" />
<line x1="313.6" y1="495.3" x2="413.6" y2="470.3" stroke="#666" stroke-width="0.85" />
<line x1="313.6" y1="494.1" x2="413.6" y2="469.1" stroke="#bbb" stroke-width="0.6" />
<line x1="320.7" y1="497.2" x2="420.7" y2="472.2" stroke="#666" stroke-width="0.85" />
<line x1="320.7" y1="496.0" x2="420.7" y2="471.0" stroke="#bbb" stroke-width="0.6" />
<line x1="327.8" y1="499.0" x2="427.8" y2="474.0" stroke="#666" stroke-width="0.85" />
<line x1="327.8" y1="497.8" x2="427.8" y2="472.8" stroke="#bbb" stroke-width="0.6" />
<line x1="334.9" y1="500.8" x2="434.9" y2="475.8" stroke="#666" stroke-width="0.85" />
<line x1="334.9" y1="499.6" x2="434.9" y2="474.6" stroke="#bbb" stroke-width="0.6" />
<line x1="342.0" y1="502.6" x2="442.0" y2="477.6" stroke="#666" stroke-width="0.85" />
<line x1="342.0" y1="501.4" x2="442.0" y2="476.4" stroke="#bbb" stroke-width="0.6" />
<line x1="349.1" y1="504.4" x2="449.1" y2="479.4" stroke="#666" stroke-width="0.85" />
<line x1="349.1" y1="503.2" x2="449.1" y2="478.2" stroke="#bbb" stroke-width="0.6" />
<line x1="356.2" y1="506.2" x2="456.2" y2="481.2" stroke="#666" stroke-width="0.85" />
<line x1="356.2" y1="505.0" x2="456.2" y2="480.0" stroke="#bbb" stroke-width="0.6" />
<line x1="363.3" y1="508.1" x2="463.3" y2="483.1" stroke="#666" stroke-width="0.85" />
<line x1="363.3" y1="506.9" x2="463.3" y2="481.9" stroke="#bbb" stroke-width="0.6" />
<line x1="370.4" y1="509.9" x2="470.4" y2="484.9" stroke="#666" stroke-width="0.85" />
<line x1="370.4" y1="508.7" x2="470.4" y2="483.7" stroke="#bbb" stroke-width="0.6" />
<line x1="377.5" y1="511.7" x2="477.5" y2="486.7" stroke="#666" stroke-width="0.85" />
<line x1="377.5" y1="510.5" x2="477.5" y2="485.5" stroke="#bbb" stroke-width="0.6" />
<line x1="384.6" y1="513.5" x2="484.6" y2="488.5" stroke="#666" stroke-width="0.85" />
<line x1="384.6" y1="512.3" x2="484.6" y2="487.3" stroke="#bbb" stroke-width="0.6" />
<line x1="391.7" y1="515.3" x2="491.7" y2="490.3" stroke="#666" stroke-width="0.85" />
<line x1="391.7" y1="514.1" x2="491.7" y2="489.1" stroke="#bbb" stroke-width="0.6" />
<line x1="398.8" y1="517.2" x2="498.8" y2="492.2" stroke="#666" stroke-width="0.85" />
<line x1="398.8" y1="516.0" x2="498.8" y2="491.0" stroke="#bbb" stroke-width="0.6" />
<line x1="405.9" y1="519.0" x2="505.9" y2="494.0" stroke="#666" stroke-width="0.85" />
<line x1="405.9" y1="517.8" x2="505.9" y2="492.8" stroke="#bbb" stroke-width="0.6" />
<line x1="413.0" y1="520.8" x2="513.0" y2="495.8" stroke="#666" stroke-width="0.85" />
<line x1="413.0" y1="519.6" x2="513.0" y2="494.6" stroke="#bbb" stroke-width="0.6" />
<line x1="420.1" y1="522.6" x2="520.1" y2="497.6" stroke="#666" stroke-width="0.85" />
<line x1="420.1" y1="521.4" x2="520.1" y2="496.4" stroke="#bbb" stroke-width="0.6" />
<line x1="427.2" y1="524.4" x2="527.2" y2="499.4" stroke="#666" stroke-width="0.85" />
<line x1="427.2" y1="523.2" x2="527.2" y2="498.2" stroke="#bbb" stroke-width="0.6" />
<line x1="434.3" y1="526.2" x2="534.3" y2="501.2" stroke="#666" stroke-width="0.85" />
<line x1="434.3" y1="525.0" x2="534.3" y2="500.0" stroke="#bbb" stroke-width="0.6" />
<line x1="441.4" y1="528.1" x2="541.4" y2="503.1" stroke="#666" stroke-width="0.85" />
<line x1="441.4" y1="526.9" x2="541.4" y2="501.9" stroke="#bbb" stroke-width="0.6" />
<line x1="448.5" y1="529.9" x2="548.5" y2="504.9" stroke="#666" stroke-width="0.85" />
<line x1="448.5" y1="528.7" x2="548.5" y2="503.7" stroke="#bbb" stroke-width="0.6" />
<line x1="455.6" y1="531.7" x2="555.6" y2="506.7" stroke="#666" stroke-width="0.85" />
<line x1="455.6" y1="530.5" x2="555.6" y2="505.5" stroke="#bbb" stroke-width="0.6" />
<line x1="462.7" y1="533.5" x2="562.7" y2="508.5" stroke="#666" stroke-width="0.85" />
<line x1="462.7" y1="532.3" x2="562.7" y2="507.3" stroke="#bbb" stroke-width="0.6" />
<line x1="469.8" y1="535.3" x2="569.8" y2="510.3" stroke="#666" stroke-width="0.85" />
<line x1="469.8" y1="534.1" x2="569.8" y2="509.1" stroke="#bbb" stroke-width="0.6" />
<line x1="476.9" y1="537.1" x2="576.9" y2="512.1" stroke="#666" stroke-width="0.85" />
<line x1="476.9" y1="535.9" x2="576.9" y2="510.9" stroke="#bbb" stroke-width="0.6" />
<line x1="484.0" y1="539.0" x2="584.0" y2="514.0" stroke="#666" stroke-width="0.85" />
<line x1="484.0" y1="537.8" x2="584.0" y2="512.8" stroke="#bbb" stroke-width="0.6" />
</g>
<line x1="333.2" y1="463.9" x2="486.0" y2="499.2" stroke="#6a6a6a" stroke-width="1" />
<path d="M252.7,490.7 L321.0,507.0 L321.0,510.6 L252.7,494.5 Z" stroke="#6a6a6a" stroke-width="0.8" fill="#fff" stroke-linejoin="round" />
<path d="M310.0,506.0 L319.0,508.0 L319.0,511.0 L310.0,509.0 Z" stroke="#6a6a6a" stroke-width="0.8" fill="#fff" stroke-linejoin="round" />
<path d="M195.5,385.5 L267.2,378.0 L328.8,460.4 L256.0,476.0 Z" stroke="#6a6a6a" stroke-width="0.9" fill="#fff" stroke-linejoin="round" />
<line x1="200.3" y1="392.7" x2="272.1" y2="384.6" stroke="#555" stroke-width="0.9" />
<line x1="199.3" y1="391.1" x2="271.0" y2="383.1" stroke="#999" stroke-width="0.6" />
<line x1="204.8" y1="399.4" x2="276.7" y2="390.7" stroke="#555" stroke-width="0.9" />
<line x1="203.7" y1="397.8" x2="275.6" y2="389.2" stroke="#999" stroke-width="0.6" />
<line x1="209.2" y1="406.0" x2="281.2" y2="396.7" stroke="#555" stroke-width="0.9" />
<line x1="208.1" y1="404.4" x2="280.1" y2="395.2" stroke="#999" stroke-width="0.6" />
<line x1="213.7" y1="412.6" x2="285.7" y2="402.7" stroke="#555" stroke-width="0.9" />
<line x1="212.6" y1="411.0" x2="284.6" y2="401.2" stroke="#999" stroke-width="0.6" />
<line x1="218.1" y1="419.3" x2="290.2" y2="408.7" stroke="#555" stroke-width="0.9" />
<line x1="217.0" y1="417.6" x2="289.1" y2="407.3" stroke="#999" stroke-width="0.6" />
<line x1="222.1" y1="425.3" x2="294.3" y2="414.3" stroke="#555" stroke-width="0.9" />
<line x1="221.0" y1="423.7" x2="293.2" y2="412.8" stroke="#999" stroke-width="0.6" />
<line x1="226.1" y1="431.3" x2="298.4" y2="419.7" stroke="#555" stroke-width="0.9" />
<line x1="225.0" y1="429.7" x2="297.3" y2="418.2" stroke="#999" stroke-width="0.6" />
<line x1="230.3" y1="437.6" x2="302.7" y2="425.5" stroke="#555" stroke-width="0.9" />
<line x1="229.3" y1="436.0" x2="301.6" y2="424.0" stroke="#999" stroke-width="0.6" />
<line x1="234.8" y1="444.3" x2="307.2" y2="431.6" stroke="#555" stroke-width="0.9" />
<line x1="233.7" y1="442.7" x2="306.1" y2="430.1" stroke="#999" stroke-width="0.6" />
<line x1="240.0" y1="452.0" x2="312.5" y2="438.6" stroke="#555" stroke-width="0.9" />
<line x1="238.9" y1="450.4" x2="311.4" y2="437.1" stroke="#999" stroke-width="0.6" />
<line x1="245.1" y1="459.7" x2="317.7" y2="445.6" stroke="#555" stroke-width="0.9" />
<line x1="244.0" y1="458.1" x2="316.6" y2="444.1" stroke="#999" stroke-width="0.6" />
<line x1="250.3" y1="467.4" x2="322.9" y2="452.6" stroke="#555" stroke-width="0.9" />
<line x1="249.2" y1="465.8" x2="321.8" y2="451.1" stroke="#999" stroke-width="0.6" />
<line x1="255.1" y1="474.6" x2="327.9" y2="459.2" stroke="#555" stroke-width="0.9" />
<line x1="254.0" y1="473.0" x2="326.8" y2="457.7" stroke="#999" stroke-width="0.6" />
<path d="M190.9,387.5 L193.0,385.3 L196.4,385.4 L256.0,475.9 L250.4,478.1 Z" stroke="#6a6a6a" stroke-width="0.9" fill="#fff" stroke-linejoin="round" />
<path d="M265.9,378.8 L268.0,377.5 L269.5,378.4 L329.0,460.4 L325.5,462.7 Z" stroke="#6a6a6a" stroke-width="0.9" fill="#fff" stroke-linejoin="round" />
<path d="M174.5,459.3 L200.0,460.8 L230.0,464.5 L401.0,517.5 L405.5,518.5 L407.5,521.5 L405.0,525.0 L401.0,525.5 L175.0,469.3 L174.0,468.5 L173.8,460.0 Z" stroke="#6a6a6a" stroke-width="1" fill="#fff" stroke-linejoin="round" />
<line x1="174.4" y1="461.9" x2="403.0" y2="521.5" stroke="#777" stroke-width="0.8" />
<path d="M204.5,467.0 L224.5,443.3 L228.0,444.5 L209.0,468.5 Z" stroke="#6a6a6a" stroke-width="0.9" fill="#fff" stroke-linejoin="round" />
<path d="M401.9,519.2 L486.3,499.4 L487.5,501.5 L485.2,504.6 L404.0,524.4 Z" stroke="#6a6a6a" stroke-width="0.9" fill="#fff" stroke-linejoin="round" />
<circle cx="487" cy="500.5" r="2.3" fill="#fff" stroke="#6a6a6a" stroke-width="0.8"/>
<path d="M346.6,510.9 L347.5,508.9 L350.5,508.3 L354.5,509.4 L358.5,511.0 L361.9,513.5 L366.0,523.0 L392.5,578.5 L391.8,582.3 L388.5,583.9 L384.8,583.3 L383.0,581.5 L375.0,564.0 Z" stroke="#6a6a6a" stroke-width="1" fill="#fff" stroke-linejoin="round" />
<line x1="359.5" y1="516.0" x2="389.6" y2="578.5" stroke="#888" stroke-width="0.6" />
<line x1="368.5" y1="525.4" x2="400.0" y2="520.0" stroke="#6a6a6a" stroke-width="0.8" />
<circle cx="352" cy="516" r="0.9" fill="none" stroke="#777" stroke-width="0.6"/>
<circle cx="357" cy="517" r="0.9" fill="none" stroke="#777" stroke-width="0.6"/>
<circle cx="361" cy="526.5" r="0.9" fill="none" stroke="#777" stroke-width="0.6"/>
<path d="M198.9,469.7 L203.0,468.5 L210.8,471.4 L198.9,491.2 L193.8,488.9 Z" stroke="#6a6a6a" stroke-width="0.9" fill="#fff" stroke-linejoin="round" />
<circle cx="201.2" cy="473" r="1" fill="none" stroke="#888" stroke-width="0.6"/>
<circle cx="204" cy="474.2" r="1" fill="none" stroke="#888" stroke-width="0.6"/>
<circle cx="197.8" cy="480.4" r="1" fill="none" stroke="#888" stroke-width="0.6"/>
<ellipse cx="187.4" cy="500.5" rx="10.2" ry="17.8" transform="rotate(8 187.4 500.5)" fill="#fff" stroke="#555" stroke-width="1.1"/>
<ellipse cx="185.6" cy="500.5" rx="9" ry="17.2" transform="rotate(8 185.6 500.5)" fill="#fff" stroke="#666" stroke-width="0.8"/>
<circle cx="183" cy="489.5" r="1.5" fill="none" stroke="#999" stroke-width="0.7"/>
<circle cx="178.6" cy="501.3" r="1.5" fill="none" stroke="#999" stroke-width="0.7"/>
<circle cx="183.6" cy="500.8" r="1.5" fill="none" stroke="#999" stroke-width="0.7"/>
<circle cx="190.4" cy="499.6" r="1.5" fill="none" stroke="#999" stroke-width="0.7"/>
<circle cx="185.9" cy="511.5" r="1.5" fill="none" stroke="#999" stroke-width="0.7"/>
<line x1="195.9" y1="379.7" x2="260.2" y2="373.1" stroke="#1e1e1e" stroke-width="1.6"/>
<path d="M263.6,372.7 L259.6,375.6 L259.1,370.7 Z" fill="#1e1e1e"/>
<path d="M192.5,380.1 L196.5,377.2 L197.0,382.1 Z" fill="#1e1e1e"/>
<text x="228.5" y="373.3" font-size="8" font-weight="bold" text-anchor="middle" fill="#1e1e1e" stroke="#1e1e1e" stroke-width="0.4" transform="rotate(-4 228.5 371.0)">56 cm</text>
<line x1="275.6" y1="381.2" x2="329.0" y2="455.4" stroke="#1e1e1e" stroke-width="1.6"/>
<path d="M331.0,458.2 L326.5,456.2 L330.5,453.2 Z" fill="#1e1e1e"/>
<path d="M273.6,378.4 L278.1,380.4 L274.1,383.4 Z" fill="#1e1e1e"/>
<text x="306.0" y="418.8" font-size="8" font-weight="bold" text-anchor="middle" fill="#1e1e1e" stroke="#1e1e1e" stroke-width="0.4" transform="rotate(53 306.0 416.5)">75 cm</text>
<line x1="334.4" y1="459.6" x2="484.3" y2="493.2" stroke="#1e1e1e" stroke-width="1.6"/>
<path d="M487.7,494.0 L483.0,495.5 L484.1,490.6 Z" fill="#1e1e1e"/>
<path d="M331.0,458.8 L335.7,457.3 L334.6,462.2 Z" fill="#1e1e1e"/>
<text x="405.0" y="472.6" font-size="8" font-weight="bold" text-anchor="middle" fill="#1e1e1e" stroke="#1e1e1e" stroke-width="0.4" transform="rotate(13 405.0 470.3)">117 cm</text>
<line x1="140.1" y1="389.0" x2="140.1" y2="510.3" stroke="#1e1e1e" stroke-width="1.6"/>
<path d="M140.1,513.7 L137.6,509.4 L142.6,509.4 Z" fill="#1e1e1e"/>
<path d="M140.1,385.6 L142.6,389.9 L137.6,389.9 Z" fill="#1e1e1e"/>
<text x="134.7" y="457.8" font-size="8" font-weight="bold" text-anchor="middle" fill="#1e1e1e" stroke="#1e1e1e" stroke-width="0.4" transform="rotate(-90 134.7 455.5)">80 cm</text>
<line x1="153.0" y1="422.4" x2="153.0" y2="512.6" stroke="#1e1e1e" stroke-width="1.6"/>
<path d="M153.0,516.0 L150.5,511.7 L155.5,511.7 Z" fill="#1e1e1e"/>
<path d="M153.0,419.0 L155.5,423.3 L150.5,423.3 Z" fill="#1e1e1e"/>
<text x="147.7" y="472.8" font-size="8" font-weight="bold" text-anchor="middle" fill="#1e1e1e" stroke="#1e1e1e" stroke-width="0.4" transform="rotate(-90 147.7 470.5)">67 cm</text>
<line x1="166.6" y1="462.2" x2="166.6" y2="512.7" stroke="#1e1e1e" stroke-width="1.6"/>
<path d="M166.6,516.1 L164.1,511.8 L169.1,511.8 Z" fill="#1e1e1e"/>
<path d="M166.6,458.8 L169.1,463.1 L164.1,463.1 Z" fill="#1e1e1e"/>
<text x="162.2" y="490.8" font-size="8" font-weight="bold" text-anchor="middle" fill="#1e1e1e" stroke="#1e1e1e" stroke-width="0.4" transform="rotate(-90 162.2 488.5)">33 cm</text>
<line x1="200.1" y1="495.2" x2="200.1" y2="517.8" stroke="#1e1e1e" stroke-width="1.6"/>
<path d="M200.1,521.2 L197.6,516.9 L202.6,516.9 Z" fill="#1e1e1e"/>
<path d="M200.1,491.8 L202.6,496.1 L197.6,496.1 Z" fill="#1e1e1e"/>
<text x="208.0" y="508.5" font-size="8" font-weight="bold" text-anchor="middle" fill="#1e1e1e" stroke="#1e1e1e" stroke-width="0.4" transform="rotate(-90 208.0 506.2)">21 cm</text>
<line x1="179.8" y1="519.4" x2="385.0" y2="586.4" stroke="#1e1e1e" stroke-width="1.6"/>
<path d="M388.3,587.5 L383.4,588.5 L385.0,583.8 Z" fill="#1e1e1e"/>
<path d="M176.5,518.3 L181.4,517.3 L179.8,522.0 Z" fill="#1e1e1e"/>
<text x="287.0" y="564.8" font-size="8" font-weight="bold" text-anchor="middle" fill="#1e1e1e" stroke="#1e1e1e" stroke-width="0.4" transform="rotate(18 287.0 562.5)">195 cm</text>
<line x1="345.8" y1="513.9" x2="378.4" y2="578.6" stroke="#1e1e1e" stroke-width="1.6"/>
<path d="M380.0,581.7 L375.8,579.0 L380.3,576.7 Z" fill="#1e1e1e"/>
<path d="M344.2,510.8 L348.4,513.5 L343.9,515.8 Z" fill="#1e1e1e"/>
<text x="356.0" y="552.7" font-size="8" font-weight="bold" text-anchor="middle" fill="#1e1e1e" stroke="#1e1e1e" stroke-width="0.4" transform="rotate(63 356.0 550.4)">40 cm</text>
<line x1="394.8" y1="586.4" x2="475.7" y2="559.9" stroke="#1e1e1e" stroke-width="1.6"/>
<path d="M479.0,558.8 L475.7,562.5 L474.1,557.8 Z" fill="#1e1e1e"/>
<path d="M391.5,587.5 L394.8,583.8 L396.4,588.5 Z" fill="#1e1e1e"/>
<text x="439.6" y="580.3" font-size="8" font-weight="bold" text-anchor="middle" fill="#1e1e1e" stroke="#1e1e1e" stroke-width="0.4" transform="rotate(-18 439.6 578.0)">61 cm</text>
<line x1="490.4" y1="503.8" x2="490.4" y2="553.3" stroke="#1e1e1e" stroke-width="1.6"/>
<path d="M490.4,556.7 L487.9,552.4 L492.9,552.4 Z" fill="#1e1e1e"/>
<path d="M490.4,500.4 L492.9,504.7 L487.9,504.7 Z" fill="#1e1e1e"/>
<text x="486.3" y="531.9" font-size="8" font-weight="bold" text-anchor="middle" fill="#1e1e1e" stroke="#1e1e1e" stroke-width="0.4" transform="rotate(-90 486.3 529.6)">33 cm</text>
<path d="M440.0,430.0 L476.0,428.0 L553.0,441.7 L516.7,449.0 L436.0,436.0 Z" stroke="#6a6a6a" stroke-width="0.9" fill="#d2d2d2" stroke-linejoin="round" />
<clipPath id="csl"><path d="M440,430 L476,428 L553,441.7 L516.7,449 L436,436 Z"/></clipPath><g clip-path="url(#csl)">
<line x1="430.0" y1="427.3" x2="475.0" y2="418.3" stroke="#8a8a8a" stroke-width="0.6" />
<line x1="432.4" y1="427.9" x2="477.4" y2="418.9" stroke="#8a8a8a" stroke-width="0.6" />
<line x1="434.8" y1="428.5" x2="479.8" y2="419.5" stroke="#8a8a8a" stroke-width="0.6" />
<line x1="437.2" y1="429.1" x2="482.2" y2="420.1" stroke="#8a8a8a" stroke-width="0.6" />
<line x1="439.6" y1="429.7" x2="484.6" y2="420.7" stroke="#8a8a8a" stroke-width="0.6" />
<line x1="442.0" y1="430.3" x2="487.0" y2="421.3" stroke="#8a8a8a" stroke-width="0.6" />
<line x1="444.4" y1="430.9" x2="489.4" y2="421.9" stroke="#8a8a8a" stroke-width="0.6" />
<line x1="446.8" y1="431.5" x2="491.8" y2="422.5" stroke="#8a8a8a" stroke-width="0.6" />
<line x1="449.2" y1="432.1" x2="494.2" y2="423.1" stroke="#8a8a8a" stroke-width="0.6" />
<line x1="451.6" y1="432.7" x2="496.6" y2="423.7" stroke="#8a8a8a" stroke-width="0.6" />
<line x1="454.0" y1="433.3" x2="499.0" y2="424.3" stroke="#8a8a8a" stroke-width="0.6" />
<line x1="456.4" y1="433.9" x2="501.4" y2="424.9" stroke="#8a8a8a" stroke-width="0.6" />
<line x1="458.8" y1="434.5" x2="503.8" y2="425.5" stroke="#8a8a8a" stroke-width="0.6" />
<line x1="461.2" y1="435.1" x2="506.2" y2="426.1" stroke="#8a8a8a" stroke-width="0.6" />
<line x1="463.6" y1="435.7" x2="508.6" y2="426.7" stroke="#8a8a8a" stroke-width="0.6" />
<line x1="466.0" y1="436.3" x2="511.0" y2="427.3" stroke="#8a8a8a" stroke-width="0.6" />
<line x1="468.4" y1="436.9" x2="513.4" y2="427.9" stroke="#8a8a8a" stroke-width="0.6" />
<line x1="470.8" y1="437.5" x2="515.8" y2="428.5" stroke="#8a8a8a" stroke-width="0.6" />
<line x1="473.2" y1="438.1" x2="518.2" y2="429.1" stroke="#8a8a8a" stroke-width="0.6" />
<line x1="475.6" y1="438.7" x2="520.6" y2="429.7" stroke="#8a8a8a" stroke-width="0.6" />
<line x1="478.0" y1="439.3" x2="523.0" y2="430.3" stroke="#8a8a8a" stroke-width="0.6" />
<line x1="480.4" y1="439.9" x2="525.4" y2="430.9" stroke="#8a8a8a" stroke-width="0.6" />
<line x1="482.8" y1="440.5" x2="527.8" y2="431.5" stroke="#8a8a8a" stroke-width="0.6" />
<line x1="485.2" y1="441.1" x2="530.2" y2="432.1" stroke="#8a8a8a" stroke-width="0.6" />
<line x1="487.6" y1="441.7" x2="532.6" y2="432.7" stroke="#8a8a8a" stroke-width="0.6" />
<line x1="490.0" y1="442.3" x2="535.0" y2="433.3" stroke="#8a8a8a" stroke-width="0.6" />
<line x1="492.4" y1="442.9" x2="537.4" y2="433.9" stroke="#8a8a8a" stroke-width="0.6" />
<line x1="494.8" y1="443.5" x2="539.8" y2="434.5" stroke="#8a8a8a" stroke-width="0.6" />
<line x1="497.2" y1="444.1" x2="542.2" y2="435.1" stroke="#8a8a8a" stroke-width="0.6" />
<line x1="499.6" y1="444.7" x2="544.6" y2="435.7" stroke="#8a8a8a" stroke-width="0.6" />
<line x1="502.0" y1="445.3" x2="547.0" y2="436.3" stroke="#8a8a8a" stroke-width="0.6" />
<line x1="504.4" y1="445.9" x2="549.4" y2="436.9" stroke="#8a8a8a" stroke-width="0.6" />
<line x1="506.8" y1="446.5" x2="551.8" y2="437.5" stroke="#8a8a8a" stroke-width="0.6" />
<line x1="509.2" y1="447.1" x2="554.2" y2="438.1" stroke="#8a8a8a" stroke-width="0.6" />
<line x1="511.6" y1="447.7" x2="556.6" y2="438.7" stroke="#8a8a8a" stroke-width="0.6" />
<line x1="514.0" y1="448.3" x2="559.0" y2="439.3" stroke="#8a8a8a" stroke-width="0.6" />
<line x1="516.4" y1="448.9" x2="561.4" y2="439.9" stroke="#8a8a8a" stroke-width="0.6" />
<line x1="518.8" y1="449.5" x2="563.8" y2="440.5" stroke="#8a8a8a" stroke-width="0.6" />
<line x1="521.2" y1="450.1" x2="566.2" y2="441.1" stroke="#8a8a8a" stroke-width="0.6" />
<line x1="523.6" y1="450.7" x2="568.6" y2="441.7" stroke="#8a8a8a" stroke-width="0.6" />
<line x1="526.0" y1="451.3" x2="571.0" y2="442.3" stroke="#8a8a8a" stroke-width="0.6" />
<line x1="528.4" y1="451.9" x2="573.4" y2="442.9" stroke="#8a8a8a" stroke-width="0.6" />
<line x1="530.8" y1="452.5" x2="575.8" y2="443.5" stroke="#8a8a8a" stroke-width="0.6" />
<line x1="533.2" y1="453.1" x2="578.2" y2="444.1" stroke="#8a8a8a" stroke-width="0.6" />
<line x1="535.6" y1="453.7" x2="580.6" y2="444.7" stroke="#8a8a8a" stroke-width="0.6" />
<line x1="538.0" y1="454.3" x2="583.0" y2="445.3" stroke="#8a8a8a" stroke-width="0.6" />
<line x1="540.4" y1="454.9" x2="585.4" y2="445.9" stroke="#8a8a8a" stroke-width="0.6" />
<line x1="542.8" y1="455.5" x2="587.8" y2="446.5" stroke="#8a8a8a" stroke-width="0.6" />
<line x1="545.2" y1="456.1" x2="590.2" y2="447.1" stroke="#8a8a8a" stroke-width="0.6" />
<line x1="547.6" y1="456.7" x2="592.6" y2="447.7" stroke="#8a8a8a" stroke-width="0.6" />
<line x1="550.0" y1="457.3" x2="595.0" y2="448.3" stroke="#8a8a8a" stroke-width="0.6" />
<line x1="552.4" y1="457.9" x2="597.4" y2="448.9" stroke="#8a8a8a" stroke-width="0.6" />
<line x1="554.8" y1="458.5" x2="599.8" y2="449.5" stroke="#8a8a8a" stroke-width="0.6" />
<line x1="557.2" y1="459.1" x2="602.2" y2="450.1" stroke="#8a8a8a" stroke-width="0.6" />
<line x1="559.6" y1="459.7" x2="604.6" y2="450.7" stroke="#8a8a8a" stroke-width="0.6" />
</g>
<line x1="476.0" y1="428.0" x2="553.0" y2="441.7" stroke="#6a6a6a" stroke-width="0.9" />
<path d="M424.2,391.3 L457.0,387.9 L477.4,426.0 L449.0,431.3 Z" stroke="#6a6a6a" stroke-width="0.9" fill="#fff" stroke-linejoin="round" />
<line x1="427.4" y1="394.0" x2="457.9" y2="390.5" stroke="#555" stroke-width="0.9" />
<line x1="426.6" y1="392.8" x2="457.3" y2="389.3" stroke="#aaa" stroke-width="0.6" />
<line x1="429.2" y1="397.0" x2="459.4" y2="393.3" stroke="#555" stroke-width="0.9" />
<line x1="428.5" y1="395.8" x2="458.8" y2="392.2" stroke="#aaa" stroke-width="0.6" />
<line x1="431.1" y1="400.0" x2="460.9" y2="396.2" stroke="#555" stroke-width="0.9" />
<line x1="430.4" y1="398.8" x2="460.3" y2="395.1" stroke="#aaa" stroke-width="0.6" />
<line x1="433.0" y1="403.0" x2="462.5" y2="399.1" stroke="#555" stroke-width="0.9" />
<line x1="432.2" y1="401.8" x2="461.9" y2="397.9" stroke="#aaa" stroke-width="0.6" />
<line x1="434.8" y1="406.0" x2="464.0" y2="401.9" stroke="#555" stroke-width="0.9" />
<line x1="434.1" y1="404.8" x2="463.4" y2="400.8" stroke="#aaa" stroke-width="0.6" />
<line x1="436.7" y1="409.0" x2="465.5" y2="404.8" stroke="#555" stroke-width="0.9" />
<line x1="436.0" y1="407.8" x2="464.9" y2="403.7" stroke="#aaa" stroke-width="0.6" />
<line x1="438.6" y1="412.1" x2="467.1" y2="407.7" stroke="#555" stroke-width="0.9" />
<line x1="437.8" y1="410.9" x2="466.5" y2="406.5" stroke="#aaa" stroke-width="0.6" />
<line x1="440.4" y1="415.1" x2="468.6" y2="410.5" stroke="#555" stroke-width="0.9" />
<line x1="439.7" y1="413.9" x2="468.0" y2="409.4" stroke="#aaa" stroke-width="0.6" />
<line x1="442.3" y1="418.1" x2="470.2" y2="413.4" stroke="#555" stroke-width="0.9" />
<line x1="441.6" y1="416.9" x2="469.5" y2="412.3" stroke="#aaa" stroke-width="0.6" />
<line x1="444.2" y1="421.1" x2="471.7" y2="416.3" stroke="#555" stroke-width="0.9" />
<line x1="443.4" y1="419.9" x2="471.1" y2="415.1" stroke="#aaa" stroke-width="0.6" />
<line x1="446.0" y1="424.1" x2="473.2" y2="419.1" stroke="#555" stroke-width="0.9" />
<line x1="445.3" y1="422.9" x2="472.6" y2="418.0" stroke="#aaa" stroke-width="0.6" />
<line x1="447.9" y1="427.1" x2="474.8" y2="422.0" stroke="#555" stroke-width="0.9" />
<line x1="447.1" y1="425.9" x2="474.1" y2="420.8" stroke="#aaa" stroke-width="0.6" />
<line x1="449.8" y1="430.1" x2="476.3" y2="424.9" stroke="#555" stroke-width="0.9" />
<line x1="449.0" y1="428.9" x2="475.7" y2="423.7" stroke="#aaa" stroke-width="0.6" />
<line x1="427.0" y1="391.0" x2="451.5" y2="430.5" stroke="#888" stroke-width="0.7" />
<path d="M427.6,431.0 L438.9,417.3 L442.3,417.3 L432.1,431.0 Z" stroke="#6a6a6a" stroke-width="0.8" fill="#fff" stroke-linejoin="round" />
<line x1="439.0" y1="417.5" x2="447.5" y2="429.5" stroke="#6a6a6a" stroke-width="0.7" />
<path d="M416.3,423.6 L420.0,423.8 L516.7,448.5 L518.3,450.8 L516.7,453.0 L416.5,428.3 Z" stroke="#6a6a6a" stroke-width="0.9" fill="#fff" stroke-linejoin="round" />
<line x1="416.4" y1="425.3" x2="517.0" y2="450.3" stroke="#999" stroke-width="0.5" />
<path d="M516.7,448.5 L553.0,441.7 L553.8,444.0 L517.5,452.5 Z" stroke="#6a6a6a" stroke-width="0.8" fill="#fff" stroke-linejoin="round" />
<path d="M493.7,446.9 L500.0,447.5 L510.4,476.5 L507.0,477.5 L505.0,477.0 Z" stroke="#6a6a6a" stroke-width="0.9" fill="#fff" stroke-linejoin="round" />
<path d="M536.5,445.0 L540.6,444.5 L549.0,464.0 L546.0,465.0 L545.8,464.6 Z" stroke="#6a6a6a" stroke-width="0.9" fill="#fff" stroke-linejoin="round" />
<line x1="451.4" y1="436.5" x2="451.4" y2="438.5" stroke="#6a6a6a" stroke-width="0.8" />
<path d="M423.5,436.0 L430.5,426.8 L434.0,427.5 L427.0,438.0 Z" stroke="#6a6a6a" stroke-width="0.8" fill="#fff" stroke-linejoin="round" />
<ellipse cx="421.6" cy="441.1" rx="4.4" ry="7.9" fill="#fff" stroke="#555" stroke-width="1"/>
<circle cx="421.5" cy="436.5" r="0.6" fill="#999"/>
<circle cx="420.3" cy="441" r="0.6" fill="#999"/>
<circle cx="423" cy="441" r="0.6" fill="#999"/>
<circle cx="421.8" cy="445.5" r="0.6" fill="#999"/>
<path d="M485.2,400.6 L484.0,400.6 Q483.4,400.6 483.4,399.9 L483.4,399.2 Q483.4,398.5 484.1,398.5 L490.7,398.5 Q491.4,398.5 491.4,399.2 L491.4,399.9 Q491.4,400.6 490.8,400.6 L489.6,400.6 L489.6,405.4 Q490.2,407.0 494.1,408.3 Q497.1,408.9 497.1,410.7 L497.1,432.4 Q497.1,433.7 495.8,433.7 L479.0,433.7 Q477.7,433.7 477.7,432.4 L477.7,410.7 Q477.7,408.9 480.7,408.3 Q484.6,407.0 485.2,405.4 Z" fill="#fff" stroke="#555" stroke-width="1"/>
<text x="487.2" y="416.2" font-size="5.4" font-weight="bold" text-anchor="middle" fill="#1e1e1e" stroke="#1e1e1e" stroke-width="0.4">MAX</text>
<text x="487.4" y="425.2" font-size="9.8" font-weight="bold" text-anchor="middle" fill="#1e1e1e" stroke="#1e1e1e" stroke-width="0.4">160</text>
<text x="487.0" y="431.5" font-size="6.8" font-weight="bold" text-anchor="middle" fill="#1e1e1e" stroke="#1e1e1e" stroke-width="0.4">kg</text>
<text x="164.5" y="111.5" font-size="18.3" font-weight="bold" text-anchor="middle" fill="#1e1e1e" stroke="#1e1e1e" stroke-width="0.6">x8</text>
<text x="315.2" y="388.1" font-size="19.7" font-weight="bold" text-anchor="middle" fill="#1e1e1e" stroke="#1e1e1e" stroke-width="0.6">x2</text>
<text x="760.0" y="581.5" font-size="8" font-weight="bold" text-anchor="middle" fill="#1e1e1e" stroke="#1e1e1e" stroke-width="0.4">+/- 2 cm</text>
</svg></body></html>
